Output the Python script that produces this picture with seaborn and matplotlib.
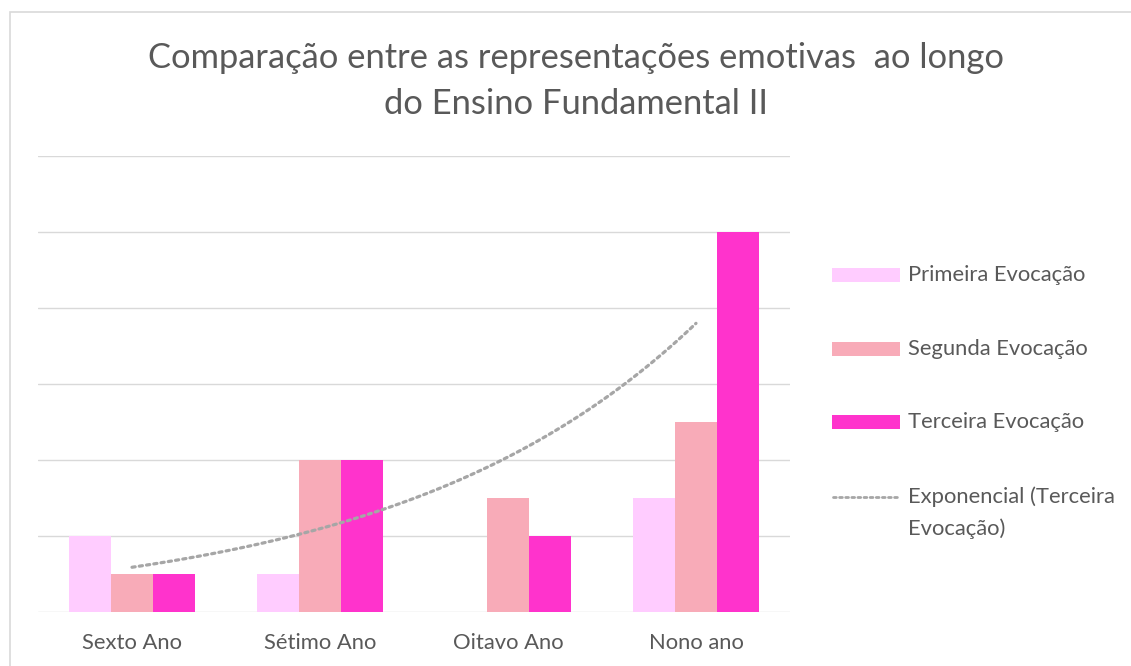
import matplotlib.pyplot as plt
import matplotlib.patches as mpatches
from matplotlib.lines import Line2D
import pandas as pd
import numpy as np
import seaborn as sns

categories = ["Sexto Ano", "Sétimo Ano", "Oitavo Ano", "Nono ano"]
primeira = [2, 1, 0, 3]
segunda = [1, 4, 3, 5]
terceira = [1, 4, 2, 10]
series_names = ["Primeira Evocação", "Segunda Evocação", "Terceira Evocação"]
trend_label = ["Exponencial (Terceira", "Evocação)"]
colors = ["#FFCCFF", "#F8ABB8", "#FF33CC"]

sns.set_theme(style="white")
plt.rcParams['font.family'] = ['Lato', 'DejaVu Sans']
text_color = "#595959"
W, H = 1131, 666

df = pd.DataFrame({
    "ano": categories * 3,
    "valor": primeira + segunda + terceira,
    "serie": [s for s in series_names for _ in categories],
})

fig = plt.figure(figsize=(W / 100, H / 100), dpi=100)
ax = fig.add_axes([38 / W, 54 / H, 752 / W, 456 / H])

sns.barplot(data=df, x="ano", y="valor", hue="serie", palette=colors,
            width=0.67, gap=0, ax=ax, legend=False, saturation=1, linewidth=0)

# exponential trendline on Terceira Evocação
xs = np.arange(len(terceira))
b, a = np.polyfit(xs, np.log(terceira), 1)
xfit = np.linspace(0, len(terceira) - 1, 100)
ax.plot(xfit, np.exp(a + b * xfit), color="#A6A6A6", lw=2.3,
        linestyle=(0, (1, 1.3)), dash_capstyle="round")

ax.set_xlim(-0.5, 3.5)
ax.set_ylim(0, 12)
ax.set_yticks(np.arange(0, 13, 2))
ax.set_yticklabels([])
ax.yaxis.grid(True, color="#D9D9D9", lw=1)
ax.set_axisbelow(True)
for s in ax.spines.values():
    s.set_visible(False)
ax.tick_params(axis="x", length=0, labelsize=15.8, labelcolor=text_color, pad=15)
ax.tick_params(axis="y", length=0)
ax.set_xlabel("")
ax.set_ylabel("")

fig.text(576 / W, 1 - 58 / H, "Comparação entre as representações emotivas  ao longo",
         ha="center", va="center", fontsize=24.8, color=text_color)
fig.text(576 / W, 1 - 104 / H, "do Ensino Fundamental II",
         ha="center", va="center", fontsize=24.8, color=text_color)

# legend drawn by hand so the wrapped label lines up like the original
rows_y = [275, 349, 422]
for c, name, y in zip(colors, series_names, rows_y):
    fig.add_artist(mpatches.Rectangle((832 / W, 1 - (y + 7) / H), 68 / W, 14 / H,
                                      transform=fig.transFigure, color=c, lw=0))
    fig.text(908 / W, 1 - y / H, name, ha="left", va="center",
             fontsize=15.8, color=text_color)
fig.add_artist(Line2D([833 / W, 899 / W], [1 - 497 / H, 1 - 497 / H],
                      transform=fig.transFigure, color="#A6A6A6", lw=2,
                      linestyle=(0, (1, 1.2)), dash_capstyle="round"))
fig.text(908 / W, 1 - 497 / H, trend_label[0], ha="left", va="center",
         fontsize=15.8, color=text_color)
fig.text(908 / W, 1 - 529 / H, trend_label[1], ha="left", va="center",
         fontsize=15.8, color=text_color)

# chart border
fig.add_artist(mpatches.Rectangle((9.5 / W, -0.1), 1.2, 1 - 12 / H + 0.1,
                                  transform=fig.transFigure, fill=False,
                                  edgecolor="#D9D9D9", lw=1.2))

fig.savefig("out.png", dpi=100)
